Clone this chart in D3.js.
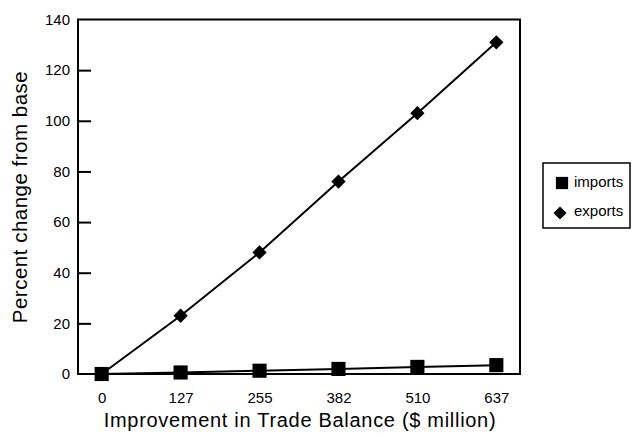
<!DOCTYPE html>
<html><head><meta charset="utf-8">
<script src="https://cdn.jsdelivr.net/npm/d3@7"></script>
<style>body{margin:0;background:#fff}svg{display:block}text{font-family:"Liberation Sans",Arial,sans-serif;fill:#000}</style>
</head><body><svg id="c" width="634" height="438"></svg>
<script>
const categories = ["0","127","255","382","510","637"];
const imports = [0, 0.6, 1.3, 2.0, 2.8, 3.5];
const exports_ = [0, 23, 48, 76, 103, 131];
const yTicks = [0,20,40,60,80,100,120,140];

const svg = d3.select("#c");
const L=78,R=520,T=19.5,B=374;
const x = d3.scalePoint().domain(categories).range([L,R]).padding(0.3);
const y = d3.scaleLinear().domain([0,140]).range([B,T]);

// frame
svg.append("rect").attr("x",L).attr("y",T).attr("width",R-L).attr("height",B-T)
  .attr("fill","none").attr("stroke","#000").attr("stroke-width",2);

// y axis
const ya = svg.append("g").attr("transform",`translate(${L},0)`)
  .call(d3.axisLeft(y).tickValues(yTicks).tickSize(-13).tickPadding(8).tickFormat(d3.format("d")));
ya.select(".domain").remove();
ya.selectAll("line").attr("stroke","#000").attr("stroke-width",2);
ya.selectAll("text").attr("font-size",15).attr("font-family","Liberation Sans, Arial, sans-serif").attr("fill","#000");
ya.selectAll(".tick").filter(d=>d===0||d===140).select("line").remove();

// x axis
const xa = svg.append("g").attr("transform",`translate(0,${B})`)
  .call(d3.axisBottom(x).tickSize(0).tickPadding(18));
xa.select(".domain").remove();
xa.selectAll("text").attr("font-size",15).attr("font-family","Liberation Sans, Arial, sans-serif").attr("fill","#000");

// titles
svg.append("text").attr("x",300).attr("y",427).attr("text-anchor","middle").attr("font-size",20).attr("letter-spacing",0.7).text("Improvement in Trade Balance ($ million)");
svg.append("text").attr("transform","translate(27,197) rotate(-90)").attr("text-anchor","middle").attr("font-size",20.5).attr("letter-spacing",0.5).text("Percent change from base");

const line = d3.line().x((d,i)=>x(categories[i])).y(d=>y(d));
svg.append("path").datum(exports_).attr("d",line).attr("fill","none").attr("stroke","#000").attr("stroke-width",2);
svg.append("path").datum(imports).attr("d",line).attr("fill","none").attr("stroke","#000").attr("stroke-width",2);

const diamond = d3.symbol().type(d3.symbolDiamond2).size(130);
const square = d3.symbol().type(d3.symbolSquare).size(200);
svg.selectAll(".ex").data(exports_).join("path")
  .attr("transform",(d,i)=>`translate(${x(categories[i])},${y(d)})`).attr("d",diamond).attr("fill","#000");
svg.selectAll(".im").data(imports).join("path")
  .attr("transform",(d,i)=>`translate(${x(categories[i])},${y(d)})`).attr("d",square).attr("fill","#000");

// legend
svg.append("rect").attr("x",543).attr("y",163).attr("width",87).attr("height",65).attr("fill","none").attr("stroke","#000").attr("stroke-width",1.5);
svg.append("path").attr("transform","translate(562,183)").attr("d",d3.symbol().type(d3.symbolSquare).size(150)()).attr("fill","#000");
svg.append("path").attr("transform","translate(560,213)").attr("d",d3.symbol().type(d3.symbolDiamond2).size(110)()).attr("fill","#000");
svg.append("text").attr("x",574).attr("y",187).attr("font-size",15).text("imports");
svg.append("text").attr("x",574).attr("y",216).attr("font-size",15).text("exports");
</script></body></html>
